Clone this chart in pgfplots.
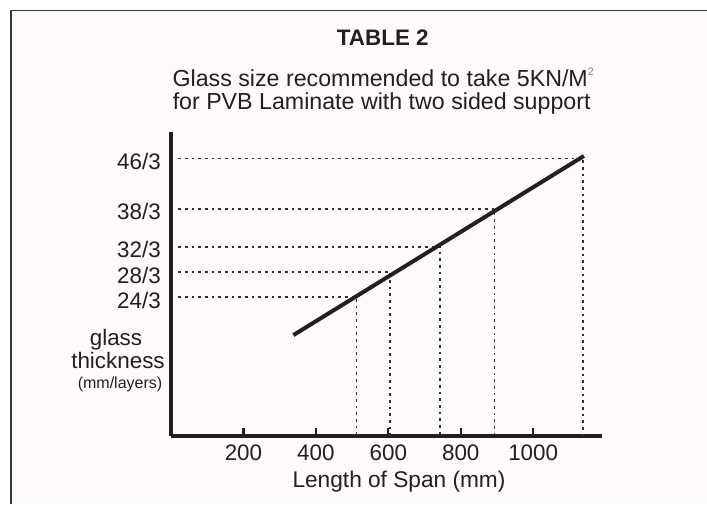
\documentclass[border=0pt]{standalone}
\usepackage{fontspec}
\setmainfont{Liberation Sans}
\usepackage{graphicx}
\usepackage{pgfplots}
\pgfplotsset{compat=1.18}
\definecolor{ink}{RGB}{35,31,32}
\definecolor{bgin}{RGB}{254,250,249}
\definecolor{dotc}{RGB}{50,46,47}
\newcommand{\fs}[1]{\fontsize{#1}{#1}\selectfont}

\begin{document}
\begin{tikzpicture}
\path[use as bounding box] (-128.25pt,-51pt) rectangle (402pt,327pt);
\fill[white] (-128.25pt,-51pt) rectangle (402pt,327pt);
\fill[bgin] (-120pt,-51pt) rectangle (402pt,319.1pt);
\draw[ink!90, line width=1.1pt] (-120pt,-51pt) -- (-120pt,319.1pt) -- (402pt,319.1pt);
\begin{axis}[
  scale only axis, width=323.25pt, height=228pt,
  xmin=0, xmax=1190, ymin=2, ymax=50.2,
  axis x line*=bottom, axis y line*=left,
  axis line style={line width=2.3pt, draw=ink},
  xtick={200,400,600,800,1000},
  xticklabels={200,400,600,800,1000},
  ytick={24,28,32,38,46},
  yticklabels={24/3,28/3,32/3,38/3,46/3},
  tick align=inside,
  major tick length=6pt,
  xtick style={line width=1.6pt, draw=ink},
  ytick style={draw=none},
  tick label style={font=\fs{16.8}, text=ink},
  xticklabel style={anchor=base, inner sep=0pt, yshift=-18pt},
  yticklabel style={anchor=east, inner sep=0pt, xshift=-7.5pt, yshift=-2.25pt},
  xlabel={Length of Span (mm)},
  xlabel style={at={(axis description cs:0.529,0)}, anchor=base, yshift=-38.25pt, font=\fs{17}, text=ink, inner sep=0pt},
  clip=false,
]
\addplot[dotc, line width=1.4pt, dash pattern=on 2pt off 3pt] coordinates {(20,46) (1138,46) (1138,2)};
\addplot[dotc, line width=1.4pt, dash pattern=on 2pt off 3pt] coordinates {(20,38) (893,38) (893,2)};
\addplot[dotc, line width=1.4pt, dash pattern=on 2pt off 3pt] coordinates {(20,32) (743,32) (743,2)};
\addplot[dotc, line width=1.4pt, dash pattern=on 2pt off 3pt] coordinates {(20,28) (605,28) (605,2)};
\addplot[dotc, line width=1.4pt, dash pattern=on 2pt off 3pt] coordinates {(20,24) (512,24) (512,2)};
\addplot[ink, line width=3pt] coordinates {(338,18.0) (1140,46.4)};
\end{axis}
\node[anchor=base, text=ink, font=\bfseries\fs{16.8}, inner sep=0pt] at (158.85pt,292.5pt) {TABLE 2};
\node[anchor=base, text=ink, font=\fs{17.4}, inner sep=0pt] at (159.15pt,262pt) {Glass size recommended to take 5KN/M\raisebox{8.5pt}{\fs{8}\color{gray}2}};
\node[anchor=base, text=ink, font=\fs{17.4}, inner sep=0pt] at (158pt,244.5pt) {for PVB Laminate with two sided support};
\node[anchor=base, text=ink, font=\fs{16.8}, inner sep=0pt] at (-41.25pt,67.8pt) {glass};
\node[anchor=base, text=ink, font=\fs{16.8}, inner sep=0pt] at (-39.75pt,50.8pt) {thickness};
\node[anchor=base, text=ink, font=\fs{12}, inner sep=0pt] at (-38.25pt,35.5pt) {(mm/layers)};
\end{tikzpicture}
\end{document}
